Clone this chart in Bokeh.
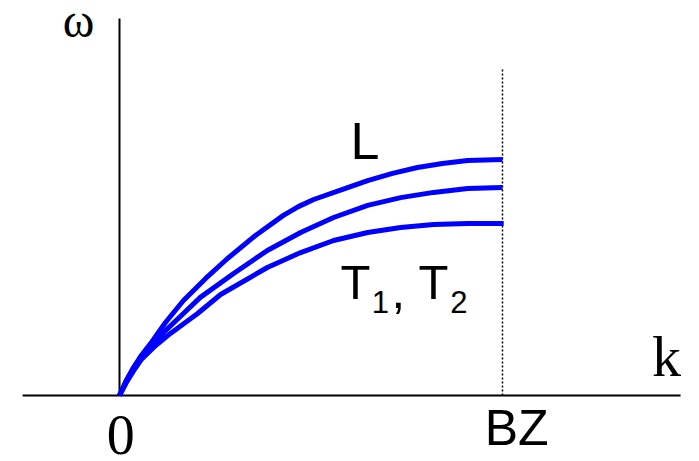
from bokeh.plotting import figure
from bokeh.models import Range1d
from bokeh.core.properties import value
from bokeh.embed import file_html
from bokeh.resources import INLINE

# Phonon dispersion sketch: wavevector k in units of the zone boundary (BZ = 1),
# frequency omega in arbitrary units (longitudinal branch max = 1).
k_L = [0.0, 0.018, 0.037, 0.057, 0.081, 0.120, 0.167, 0.225, 0.282, 0.355, 0.428,
       0.467, 0.507, 0.577, 0.648, 0.713, 0.778, 0.843, 0.909, 1.0]
w_L = [0.0, 0.063, 0.118, 0.169, 0.219, 0.308, 0.401, 0.494, 0.578, 0.675, 0.760,
       0.797, 0.827, 0.867, 0.907, 0.937, 0.962, 0.979, 0.992, 0.996]

k_T1 = [0.0, 0.018, 0.037, 0.057, 0.081, 0.120, 0.167, 0.211, 0.298, 0.386, 0.473,
        0.559, 0.648, 0.734, 0.820, 0.909, 1.0]
w_T1 = [0.0, 0.063, 0.118, 0.165, 0.203, 0.274, 0.346, 0.414, 0.515, 0.612, 0.688,
        0.751, 0.802, 0.835, 0.857, 0.873, 0.878]

k_T2 = [0.0, 0.018, 0.037, 0.057, 0.089, 0.133, 0.204, 0.264, 0.386, 0.473, 0.559,
        0.648, 0.734, 0.820, 0.909, 1.003]
w_T2 = [0.0, 0.055, 0.105, 0.152, 0.203, 0.262, 0.346, 0.426, 0.540, 0.603, 0.654,
        0.688, 0.709, 0.722, 0.726, 0.726]

k_BZ = 1.0

SERIF = "Liberation Serif"
SANS = "Liberation Sans"
BLUE = "#0000ff"

p = figure(width=699, height=461, output_backend="svg", toolbar_location=None,
           x_range=Range1d(-0.3107, 1.5144), y_range=Range1d(-0.2785, 1.6667),
           min_border=0)
p.axis.visible = False
p.grid.visible = False
p.outline_line_color = None
p.background_fill_color = "white"
p.border_fill_color = "white"

# coordinate axes
p.line([-0.253, 1.465], [0, 0], line_color="black", line_width=2)
p.line([0, 0], [0, 1.591], line_color="black", line_width=2)
# zone boundary marker
p.line([k_BZ, k_BZ], [0, 1.384], line_color="black", line_width=1.5, line_dash="2 2")

# dispersion branches
for ks, ws in ((k_L, w_L), (k_T1, w_T1), (k_T2, w_T2)):
    p.line(ks, ws, line_color=BLUE, line_width=5, line_cap="butt", line_join="round")


def label(x, y, s, font, size):
    # lift the glyph so its baseline sits on y
    p.text([x], [y], text=[s], text_font=value(font), text_font_size=f"{size}px",
           text_align="center", text_baseline="alphabetic", text_color="black",
           y_offset=-round(0.42 * size))


label(-0.107, 1.500, "ω", SERIF, 48)
label(1.428, 0.063, "k", SERIF, 58)
label(0.003, -0.266, "0", SERIF, 56)
label(1.037, -0.226, "BZ", SANS, 50)
label(0.641, 0.983, "L", SANS, 52)
label(0.616, 0.392, "T", SANS, 49)
label(0.681, 0.338, "1", SANS, 31)
label(0.728, 0.350, ",", SANS, 49)
label(0.820, 0.392, "T", SANS, 49)
label(0.886, 0.338, "2", SANS, 31)

open("out.html", "w").write(file_html(p, INLINE))
